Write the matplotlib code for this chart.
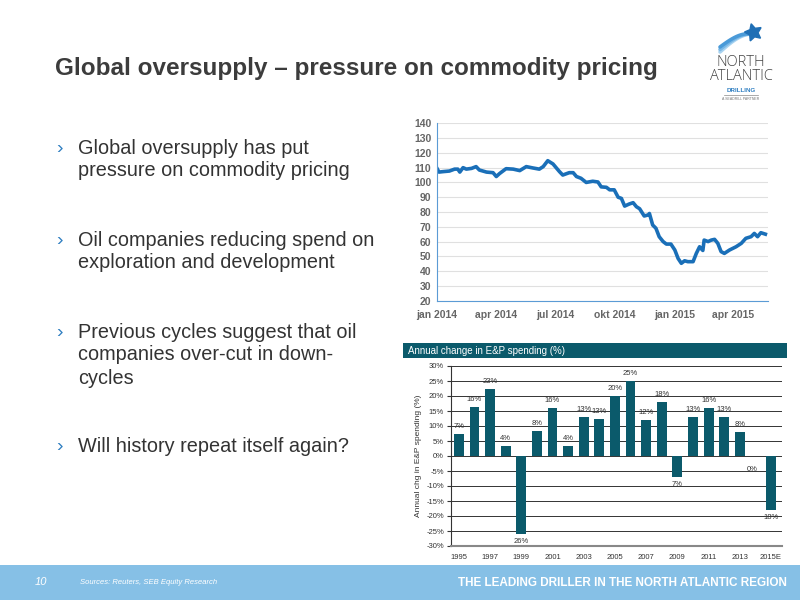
import matplotlib
matplotlib.use("Agg")
import matplotlib.pyplot as plt
import numpy as np
import pandas as pd
from matplotlib.patches import Rectangle

plt.rcParams['font.family'] = ['Liberation Sans', 'DejaVu Sans']

# ---------------- data ----------------
oil_dates = ["2014-01-01", "2014-01-04", "2014-01-10", "2014-01-20", "2014-01-28", "2014-02-02",
             "2014-02-05", "2014-02-10", "2014-02-15", "2014-02-23", "2014-03-02", "2014-03-07",
             "2014-03-18", "2014-03-28", "2014-04-02", "2014-04-07", "2014-04-17", "2014-04-28",
             "2014-05-08", "2014-05-18", "2014-05-28", "2014-06-07", "2014-06-13", "2014-06-20",
             "2014-06-28", "2014-07-08", "2014-07-13", "2014-07-23", "2014-07-29", "2014-08-03",
             "2014-08-10", "2014-08-18", "2014-08-28", "2014-09-05", "2014-09-10", "2014-09-18",
             "2014-09-23", "2014-09-30", "2014-10-06", "2014-10-11", "2014-10-16", "2014-10-23",
             "2014-10-29", "2014-11-03", "2014-11-08", "2014-11-15", "2014-11-21", "2014-11-23",
             "2014-11-28", "2014-12-03", "2014-12-08", "2014-12-14", "2014-12-19", "2014-12-26",
             "2015-01-01", "2015-01-06", "2015-01-11", "2015-01-16", "2015-01-21", "2015-01-29",
             "2015-02-03", "2015-02-08", "2015-02-10", "2015-02-13", "2015-02-15", "2015-02-21",
             "2015-02-26", "2015-03-03", "2015-03-08", "2015-03-13", "2015-03-18", "2015-03-26",
             "2015-03-31", "2015-04-05", "2015-04-13", "2015-04-20", "2015-04-28", "2015-05-03",
             "2015-05-08", "2015-05-13", "2015-05-20"]
oil_price = [109.5, 107.0, 107.3, 107.7, 109.0, 109.0,
             107.0, 110.0, 109.0, 109.5, 110.7, 108.4,
             107.0, 106.6, 104.0, 106.0, 109.3, 109.0,
             108.0, 110.7, 109.8, 109.0, 110.7, 114.7,
             112.5, 107.3, 105.0, 106.6, 106.6, 104.0,
             102.8, 100.0, 100.8, 100.3, 97.0, 96.7,
             95.0, 95.0, 90.0, 89.2, 84.0, 85.4,
             86.3, 83.6, 82.2, 77.3, 78.0, 79.0,
             71.2, 69.0, 63.3, 60.0, 58.3, 58.3,
             54.3, 48.6, 45.3, 47.0, 46.4, 46.4,
             52.0, 56.5, 55.4, 54.0, 61.0, 60.0,
             61.0, 61.5, 58.8, 53.2, 52.0, 54.3,
             55.4, 56.5, 58.8, 62.2, 63.3, 65.5,
             63.3, 66.0, 65.0]
oil_yticks = [20, 30, 40, 50, 60, 70, 80, 90, 100, 110, 120, 130, 140]
oil_xtick_dates = ["2014-01-01", "2014-04-01", "2014-07-01", "2014-10-01", "2015-01-01", "2015-04-01"]
oil_xtick_labels = ["jan 2014", "apr 2014", "jul 2014", "okt 2014", "jan 2015", "apr 2015"]

ep_years = ["1995", "1996", "1997", "1998", "1999", "2000", "2001", "2002", "2003", "2004",
            "2005", "2006", "2007", "2008", "2009", "2010", "2011", "2012", "2013", "2014", "2015E"]
ep_change = [7.5, 16.5, 22.5, 3.5, -26, 8.5, 16, 3.5, 13, 12.5,
             20, 25, 12, 18, -7, 13, 16, 13, 8, 0, -18]
ep_labels = ["7%", "16%", "23%", "4%", "26%", "8%", "16%", "4%", "13%", "13%",
             "20%", "25%", "12%", "18%", "7%", "13%", "16%", "13%", "8%", "0%", "18%"]
ep_yticks = [-30, -25, -20, -15, -10, -5, 0, 5, 10, 15, 20, 25, 30]

bullets = [
    ["Global oversupply has put", "pressure on commodity pricing"],
    ["Oil companies reducing spend on", "exploration and development"],
    ["Previous cycles suggest that oil", "companies over-cut in down-", "cycles"],
    ["Will history repeat itself again?"],
]
bullet_tops = [148, 240, 332, 446]

# ---------------- figure ----------------
fig = plt.figure(figsize=(8, 6), dpi=100)
fig.patch.set_facecolor("white")

def fy(py):
    return 1 - py / 600.0

def fx(px):
    return px / 800.0

# Title
fig.text(fx(55), fy(69), "Global oversupply \u2013 pressure on commodity pricing",
         fontsize=17.5, fontweight="bold", color="#3c3c3c", va="center", ha="left")

# Logo
logo = fig.add_axes([fx(700), fy(105), fx(82), 95 / 600.0])
logo.set_xlim(0, 82)
logo.set_ylim(95, 0)
logo.axis("off")
t = np.linspace(0, 1, 30)
for k, c in enumerate(["#a9d3f0", "#7ab8e6", "#4a9ad8"]):
    xs = 20 + 32 * t
    ys = 42 - 2.5 * k - 18 * np.sin(t * np.pi / 2) + 2.5 * k * t
    logo.plot(xs, ys, color=c, lw=2.6, solid_capstyle="round")
logo.plot([53], [22], marker=(5, 1, 15), markersize=13, color="#1f6fb5", mec="#1f6fb5")
logo.text(41, 53, "NORTH", ha="center", va="center", fontsize=10.5, color="#444444",
          family=["Open Sans", "DejaVu Sans"], fontweight="light")
logo.text(41, 67, "ATLANTIC", ha="center", va="center", fontsize=10.5, color="#444444",
          family=["Open Sans", "DejaVu Sans"], fontweight="light")
logo.text(41, 80, "DRILLING", ha="center", va="center", fontsize=4.5, color="#2f7fc1",
          fontweight="bold")
logo.plot([24, 58], [85, 85], color="#888888", lw=0.5)
logo.text(41, 89, "A SEADRILL PARTNER", ha="center", va="center", fontsize=2.5, color="#777777")

# Bullets
for lines, top in zip(bullets, bullet_tops):
    fig.text(fx(56), fy(top), "\u203a", fontsize=14, color="#2f7fc1", va="center", ha="left")
    for i, ln in enumerate(lines):
        fig.text(fx(78), fy(top + 23 * i), ln, fontsize=14.3, color="#333333",
                 va="center", ha="left")

# ---------------- line chart ----------------
ax1 = fig.add_axes([fx(437), fy(300.7), fx(768 - 437), (300.7 - 123.3) / 600.0])
d = pd.to_datetime(oil_dates)
ax1.plot(d, oil_price, color="#1a6fb8", lw=2.6, solid_joinstyle="round")
ax1.set_ylim(20, 140)
ax1.set_yticks(oil_yticks)
ax1.set_xlim(pd.Timestamp("2014-01-01"), pd.Timestamp("2015-05-24"))
ax1.set_xticks(pd.to_datetime(oil_xtick_dates))
ax1.set_xticklabels(oil_xtick_labels)
ax1.grid(axis="y", color="#e0e0e0", lw=0.8)
ax1.set_axisbelow(True)
for s in ["top", "right"]:
    ax1.spines[s].set_visible(False)
ax1.spines["left"].set_color("#5b9bd5")
ax1.spines["bottom"].set_color("#5b9bd5")
ax1.tick_params(axis="y", length=0, labelsize=7.5, labelcolor="#666666", pad=4)
ax1.tick_params(axis="x", length=0, labelsize=7.5, labelcolor="#666666", pad=7)
for lab in ax1.get_xticklabels() + ax1.get_yticklabels():
    lab.set_fontweight("bold")

# ---------------- bar chart ----------------
teal = "#0b5a6b"
fig.patches.append(Rectangle((fx(403), fy(358)), fx(787 - 403), 15 / 600.0,
                             transform=fig.transFigure, facecolor=teal, edgecolor="none"))
fig.text(fx(408), fy(351), "Annual change in E&P spending (%)", fontsize=7, color="white",
         va="center", ha="left")

ax2 = fig.add_axes([fx(451), fy(546), fx(782 - 451), (546 - 366) / 600.0])
xpos = np.arange(len(ep_years))
ax2.bar(xpos, ep_change, width=0.63, color=teal, zorder=3)
ax2.set_xlim(-0.5, 20.7)
ax2.set_ylim(-30, 30)
ax2.set_yticks(ep_yticks)
ax2.set_yticklabels([f"{v}%" for v in ep_yticks])
ax2.set_xticks(xpos[::2])
ax2.set_xticklabels(ep_years[::2])
ax2.grid(axis="y", color="#333333", lw=0.7, zorder=0)
for s in ["top", "right"]:
    ax2.spines[s].set_visible(False)
ax2.spines["left"].set_color("#333333")
ax2.spines["left"].set_linewidth(0.8)
ax2.spines["bottom"].set_color("#888888")
ax2.spines["bottom"].set_linewidth(1.5)
ax2.tick_params(axis="y", length=3, labelsize=5.5, labelcolor="#333333", pad=2, color="#333333")
ax2.tick_params(axis="x", length=0, labelsize=5.5, labelcolor="#333333", pad=6)
ax2.set_ylabel("Annual chg in E&P spending (%)", fontsize=6, color="#333333", labelpad=3)
for xv, v, lab in zip(xpos, ep_change, ep_labels):
    if v > 0:
        ax2.text(xv, v + 1.2, lab, ha="center", va="bottom", fontsize=5.5, color="#333333")
    elif v < 0:
        ax2.text(xv, v - 1.2, lab, ha="center", va="top", fontsize=5.5, color="#333333")
    else:
        ax2.text(xv - 0.2, v - 4.5, lab, ha="center", va="center", fontsize=5.5, color="#333333")

# ---------------- footer ----------------
fig.patches.append(Rectangle((0, 0), 1, 35 / 600.0, transform=fig.transFigure,
                             facecolor="#86c0e6", edgecolor="none"))
fig.text(fx(35), fy(582), "10", fontsize=8, color="white", style="italic", va="center")
fig.text(fx(80), fy(582), "Sources: Reuters, SEB Equity Research", fontsize=5.5,
         color="white", style="italic", va="center")
fig.text(fx(787), fy(583), "THE LEADING DRILLER IN THE NORTH ATLANTIC REGION", fontsize=8.5,
         color="white", fontweight="bold", va="center", ha="right")

fig.savefig("out.png", dpi=100, facecolor="white")
